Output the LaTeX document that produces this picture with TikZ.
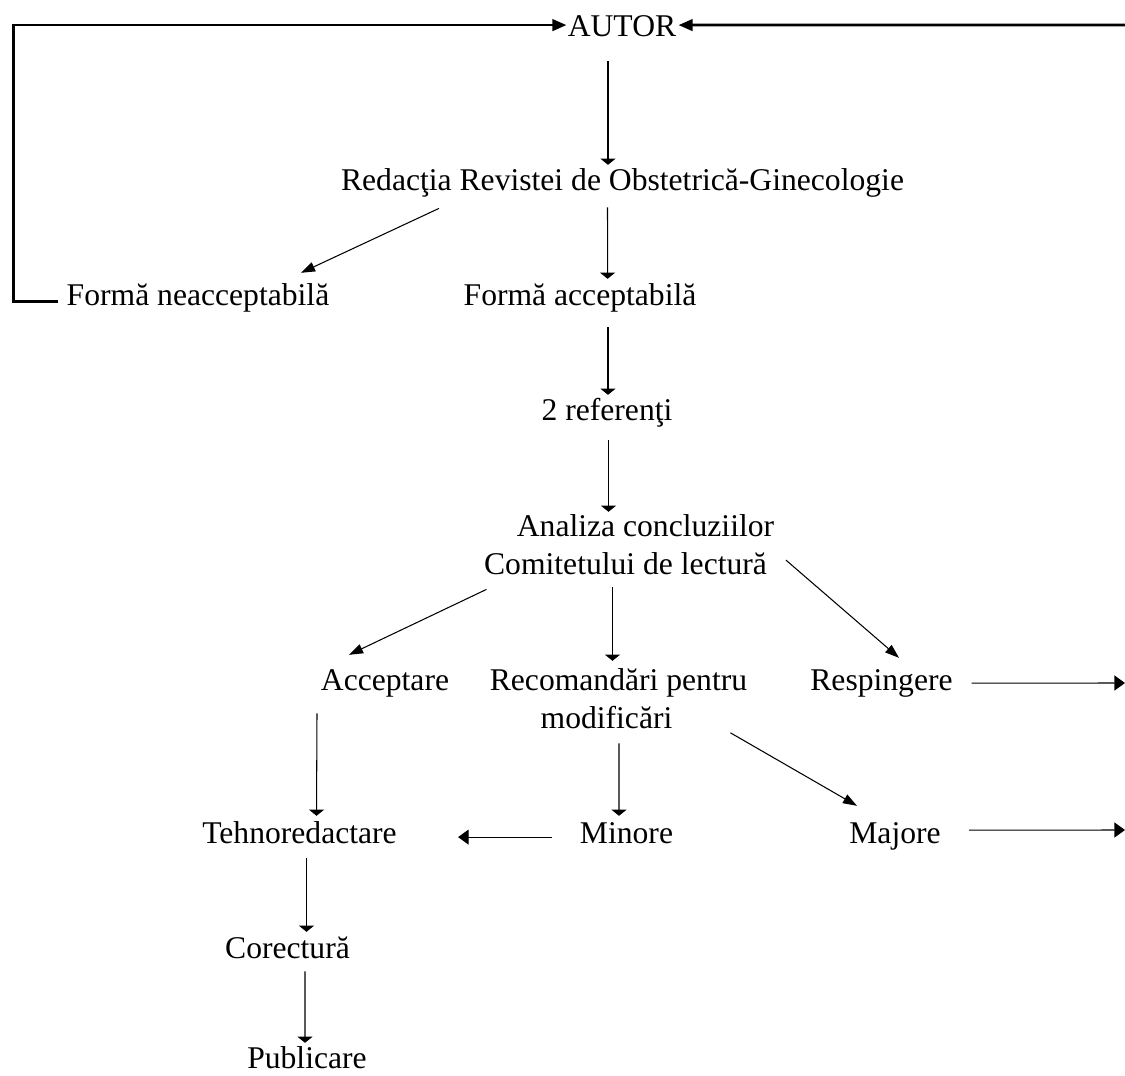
\documentclass[tikz,border=0pt]{standalone}
\usepackage{fontspec}
\setmainfont{Liberation Serif}
\usetikzlibrary{calc,arrows.meta}
\begin{document}
\begin{tikzpicture}[x=0.02cm,y=-0.02cm,
  lbl/.style={anchor=base,inner sep=0pt,text height=13pt,text depth=4pt,font=\fontsize{18pt}{21.5pt}\selectfont},
  arr/.style={draw=black,line width=0.6pt,-{Triangle[length=3.5pt,width=8.5pt]}},
  harr/.style={draw=black,line width=0.6pt,-{Triangle[length=6pt,width=8.5pt]}},
  darr/.style={draw=black,line width=0.6pt,-{Triangle[length=8pt,width=5.5pt]}},
  thickarr/.style={draw=black,line width=1.6pt,-{Triangle[length=8pt,width=6.5pt]}}]
\useasboundingbox (0,0) rectangle (1125,1075);
% nodes
\node[lbl] (autor) at (622,36) {AUTOR};
\node[lbl] (red) at (622.5,190) {Redacţia Revistei de Obstetrică-Ginecologie};
\node[lbl] (neacc) at (198,305) {Formă neacceptabilă};
\node[lbl] (acc) at (580,305) {Formă acceptabilă};
\node[lbl] (ref) at (607,420) {2 referenţi};
\node[lbl] (ana1) at (645.5,536) {Analiza concluziilor};
\node[lbl] (ana2) at (625.5,574) {Comitetului de lectură};
\node[lbl] (acpt) at (385,690) {Acceptare};
\node[lbl] (rec1) at (618.5,690) {Recomandări pentru};
\node[lbl] (rec2) at (606.5,728) {modificări};
\node[lbl] (resp) at (881.5,690) {Respingere};
\node[lbl] (tech) at (299.5,843) {Tehnoredactare};
\node[lbl] (minor) at (626.5,843) {Minore};
\node[lbl] (major) at (895,843) {Majore};
\node[lbl] (corr) at (287.5,958) {Corectură};
\node[lbl] (pub) at (307,1068) {Publicare};
\coordinate (rightin) at (1125,25);
\coordinate (respout) at (1125,683);
\coordinate (majout) at (1125,830);
% top loops
\draw[thickarr] ($(neacc.west)+(-8,4)$) -- ++(-45,0) |- ($(autor.west)+(-1,-3)$);
\draw[thickarr] (rightin) -- ($(autor.east)+(2,-3)$);
% connectors
\draw[arr] ($(autor.south)+(-14,18)$) -- ($(red.north)+(-14.5,-2)$);
\draw[darr] ($(red.south)+(-183.5,11)$) -- ($(neacc.north)+(103,-9)$);
\draw[arr] ($(red.south)+(-15,10)$) -- ($(acc.north)+(27.6,-3)$);
\draw[arr] ($(acc.south)+(28,15)$) -- ($(ref.north)+(1,-2)$);
\draw[arr] ($(ref.south)+(1.5,13)$) -- ($(ana1.north)+(-37,-1)$);
\draw[darr] ($(ana2.south)+(-139,8)$) -- ($(acpt.north)+(-36,-12)$);
\draw[arr] ($(ana2.south)+(-13,6)$) -- ($(rec1.north)+(-6,-6)$);
\draw[darr] ($(ana2.east)+(18.7,-6)$) -- ($(resp.north)+(17.5,-9)$);
\draw[harr] ($(resp.east)+(18.7,1)$) -- (respout);
\draw[arr] ($(acpt.south)+(-68,16)$) -- ($(tech.north)+(17,-4)$);
\draw[arr] ($(rec2.south)+(12.5,8)$) -- ($(minor.north)+(-7.5,-4)$);
\draw[darr] ($(rec2.east)+(57.7,12.7)$) -- ($(major.north)+(-38,-14)$);
\draw[harr] ($(major.east)+(28,-5)$) -- (majout);
\draw[harr] ($(minor.west)+(-28,2)$) -- ($(tech.east)+(61,2)$);
\draw[arr] ($(tech.south)+(7,8)$) -- ($(corr.north)+(19,-3)$);
\draw[arr] ($(corr.south)+(17.5,6)$) -- ($(pub.north)+(-2,-2)$);
\end{tikzpicture}
\end{document}
